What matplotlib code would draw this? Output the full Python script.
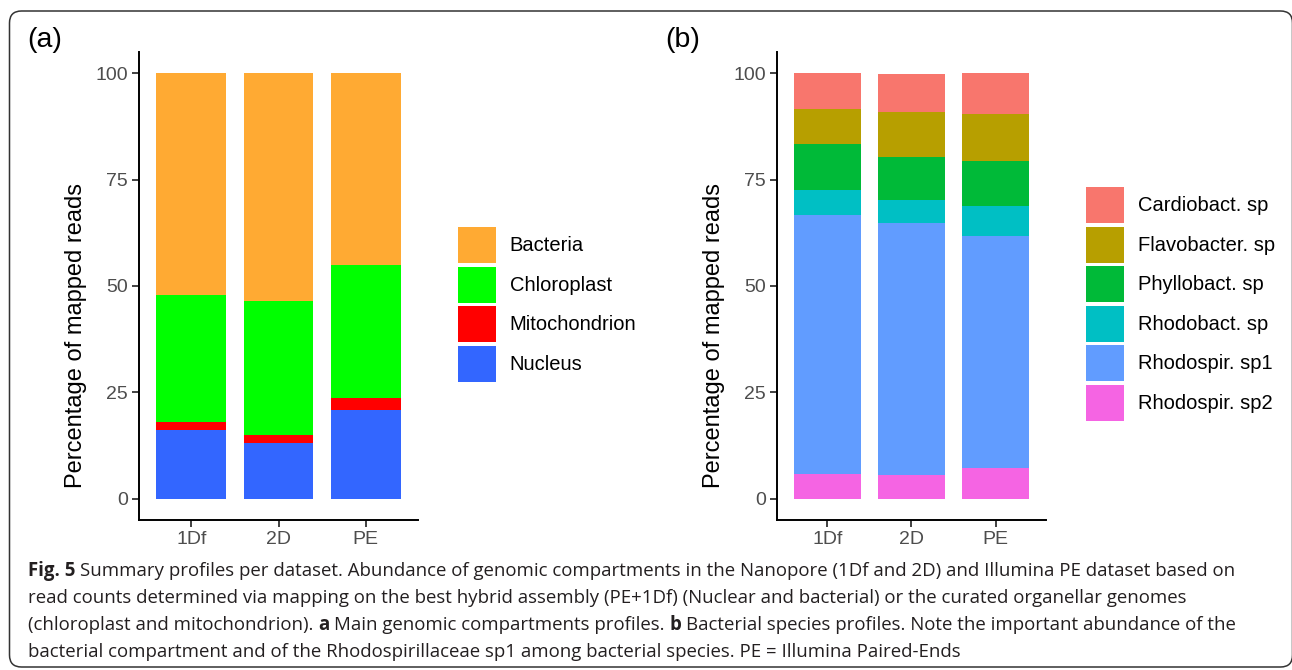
import matplotlib
matplotlib.use('Agg')
import matplotlib.pyplot as plt
from matplotlib.patches import Patch, FancyBboxPatch
from matplotlib.transforms import IdentityTransform
import numpy as np

# data (percent of mapped reads, stacked bottom -> top)
datasets = ['1Df', '2D', 'PE']

nucleus = [16.1, 13.0, 20.9]
mitochondrion = [1.9, 1.9, 2.7]
chloroplast = [29.8, 31.5, 31.3]
bacteria = [52.2, 53.6, 45.1]

rhodospir_sp2 = [5.8, 5.5, 7.2]
rhodospir_sp1 = [60.9, 59.3, 54.6]
rhodobact = [5.8, 5.5, 7.0]
phyllobact = [10.8, 10.0, 10.5]
flavobacter = [8.2, 10.5, 11.1]
cardiobact = [8.5, 9.0, 9.6]

comp_names = ['Nucleus', 'Mitochondrion', 'Chloroplast', 'Bacteria']
comp_vals = [nucleus, mitochondrion, chloroplast, bacteria]
comp_cols = ['#3366FF', '#FF0000', '#00FF00', '#FFAA33']

sp_names = ['Rhodospir. sp2', 'Rhodospir. sp1', 'Rhodobact. sp',
            'Phyllobact. sp', 'Flavobacter. sp', 'Cardiobact. sp']
sp_vals = [rhodospir_sp2, rhodospir_sp1, rhodobact, phyllobact,
           flavobacter, cardiobact]
sp_cols = ['#F564E3', '#619CFF', '#00BFC4', '#00BA38', '#B79F00', '#F8766D']

caption = [
    [('Fig. 5', 'bold'), (' Summary profiles per dataset. Abundance of genomic '
     'compartments in the Nanopore (1Df and 2D) and Illumina PE dataset based on', 'normal')],
    [('read counts determined via mapping on the best hybrid assembly (PE+1Df) '
      '(Nuclear and bacterial) or the curated organellar genomes', 'normal')],
    [('(chloroplast and mitochondrion). ', 'normal'), ('a', 'bold'),
     (' Main genomic compartments profiles. ', 'normal'), ('b', 'bold'),
     (' Bacterial species profiles. Note the important abundance of the', 'normal')],
    [('bacterial compartment and of the Rhodospirillaceae sp1 among bacterial '
      'species. PE = Illumina Paired-Ends', 'normal')],
]

plt.rcParams['font.family'] = ['Liberation Sans', 'DejaVu Sans']

W, H = 1292, 670
fig = plt.figure(figsize=(W / 100, H / 100), dpi=100)


def px_axes(l, r, t, b):
    return fig.add_axes([l / W, 1 - b / H, (r - l) / W, (b - t) / H])


def stacked(ax, vals, cols):
    x = np.arange(len(datasets))
    bottom = np.zeros(len(datasets))
    for v, c in zip(vals, cols):
        ax.bar(x, v, bottom=bottom, width=0.8, color=c, linewidth=0)
        bottom += np.array(v)
    ax.set_xlim(-0.6, len(datasets) - 0.4)
    ax.set_ylim(-5, 105)
    ax.set_xticks(x)
    ax.set_xticklabels(datasets)
    ax.set_yticks([0, 25, 50, 75, 100])
    for s in ['top', 'right']:
        ax.spines[s].set_visible(False)
    for s in ['left', 'bottom']:
        ax.spines[s].set_linewidth(1.4)
        ax.spines[s].set_color('black')
    ax.tick_params(length=5, width=1.3, color='#333333', labelcolor='#4D4D4D',
                   labelsize=14, pad=3)
    ax.set_ylabel('Percentage of mapped reads', fontsize=17, color='black')


def legend(ax, names, cols, x, y):
    handles = [Patch(facecolor=c, edgecolor='none', linewidth=0) for c in cols]
    leg = ax.legend(handles[::-1], names[::-1], loc='upper left',
                    bbox_to_anchor=(x / W, 1 - y / H), bbox_transform=fig.transFigure,
                    frameon=False, fontsize=14.5, handlelength=1.88,
                    handleheight=2.38, labelspacing=0.17, handletextpad=0.68,
                    borderpad=0, borderaxespad=0)
    return leg


ax_a = px_axes(139, 418, 52, 520)
stacked(ax_a, comp_vals, comp_cols)
legend(ax_a, comp_names, comp_cols, 458, 227)
ax_a.yaxis.set_label_coords(87 / W, 0.5, transform=fig.transFigure)

ax_b = px_axes(777, 1046, 52, 520)
stacked(ax_b, sp_vals, sp_cols)
legend(ax_b, sp_names, sp_cols, 1086, 187)
ax_b.yaxis.set_label_coords(725 / W, 0.5, transform=fig.transFigure)

fig.text(27 / W, 1 - 40 / H, '(a)', fontsize=20.5, va='center', ha='left')
fig.text(665 / W, 1 - 40 / H, '(b)', fontsize=20.5, va='center', ha='left')

# rounded frame around the whole figure
box = FancyBboxPatch((9.5, 3), 1283, 656, boxstyle='round,pad=0,rounding_size=12',
                     transform=IdentityTransform(), facecolor='none',
                     edgecolor='#333333', linewidth=1.1)
fig.patches.append(box)

# caption, runs of normal/bold text
cap_font = ['Open Sans', 'DejaVu Sans']
cap_col = '#231F20'
renderer = fig.canvas.get_renderer()


def text_w(s, weight, size):
    t = fig.text(0, 0, s, fontsize=size, weight=weight, family=cap_font,
                 transform=IdentityTransform())
    w = t.get_window_extent(renderer).width
    t.remove()
    return w


def line_w(runs, size):
    sp = text_w('a a', 'normal', size) - text_w('aa', 'normal', size)
    w = 0
    for txt, wt in runs:
        if txt.startswith(' '):
            w += sp
        w += text_w(txt.strip(), wt, size)
        if txt.endswith(' '):
            w += sp
    return w


cap_size = 10 * (1235 - 28) / line_w(caption[0], 10)
space = text_w('a a', 'normal', cap_size) - text_w('aa', 'normal', cap_size)
for i, runs in enumerate(caption):
    x = 28
    y = H - (576 + 27 * i)
    for txt, wt in runs:
        if txt.startswith(' '):
            x += space
        t = fig.text(x, y, txt.strip(), fontsize=cap_size, weight=wt,
                     family=cap_font, color=cap_col, va='baseline',
                     transform=IdentityTransform())
        x += t.get_window_extent(renderer).width
        if txt.endswith(' '):
            x += space

fig.savefig('out.png', dpi=100)
